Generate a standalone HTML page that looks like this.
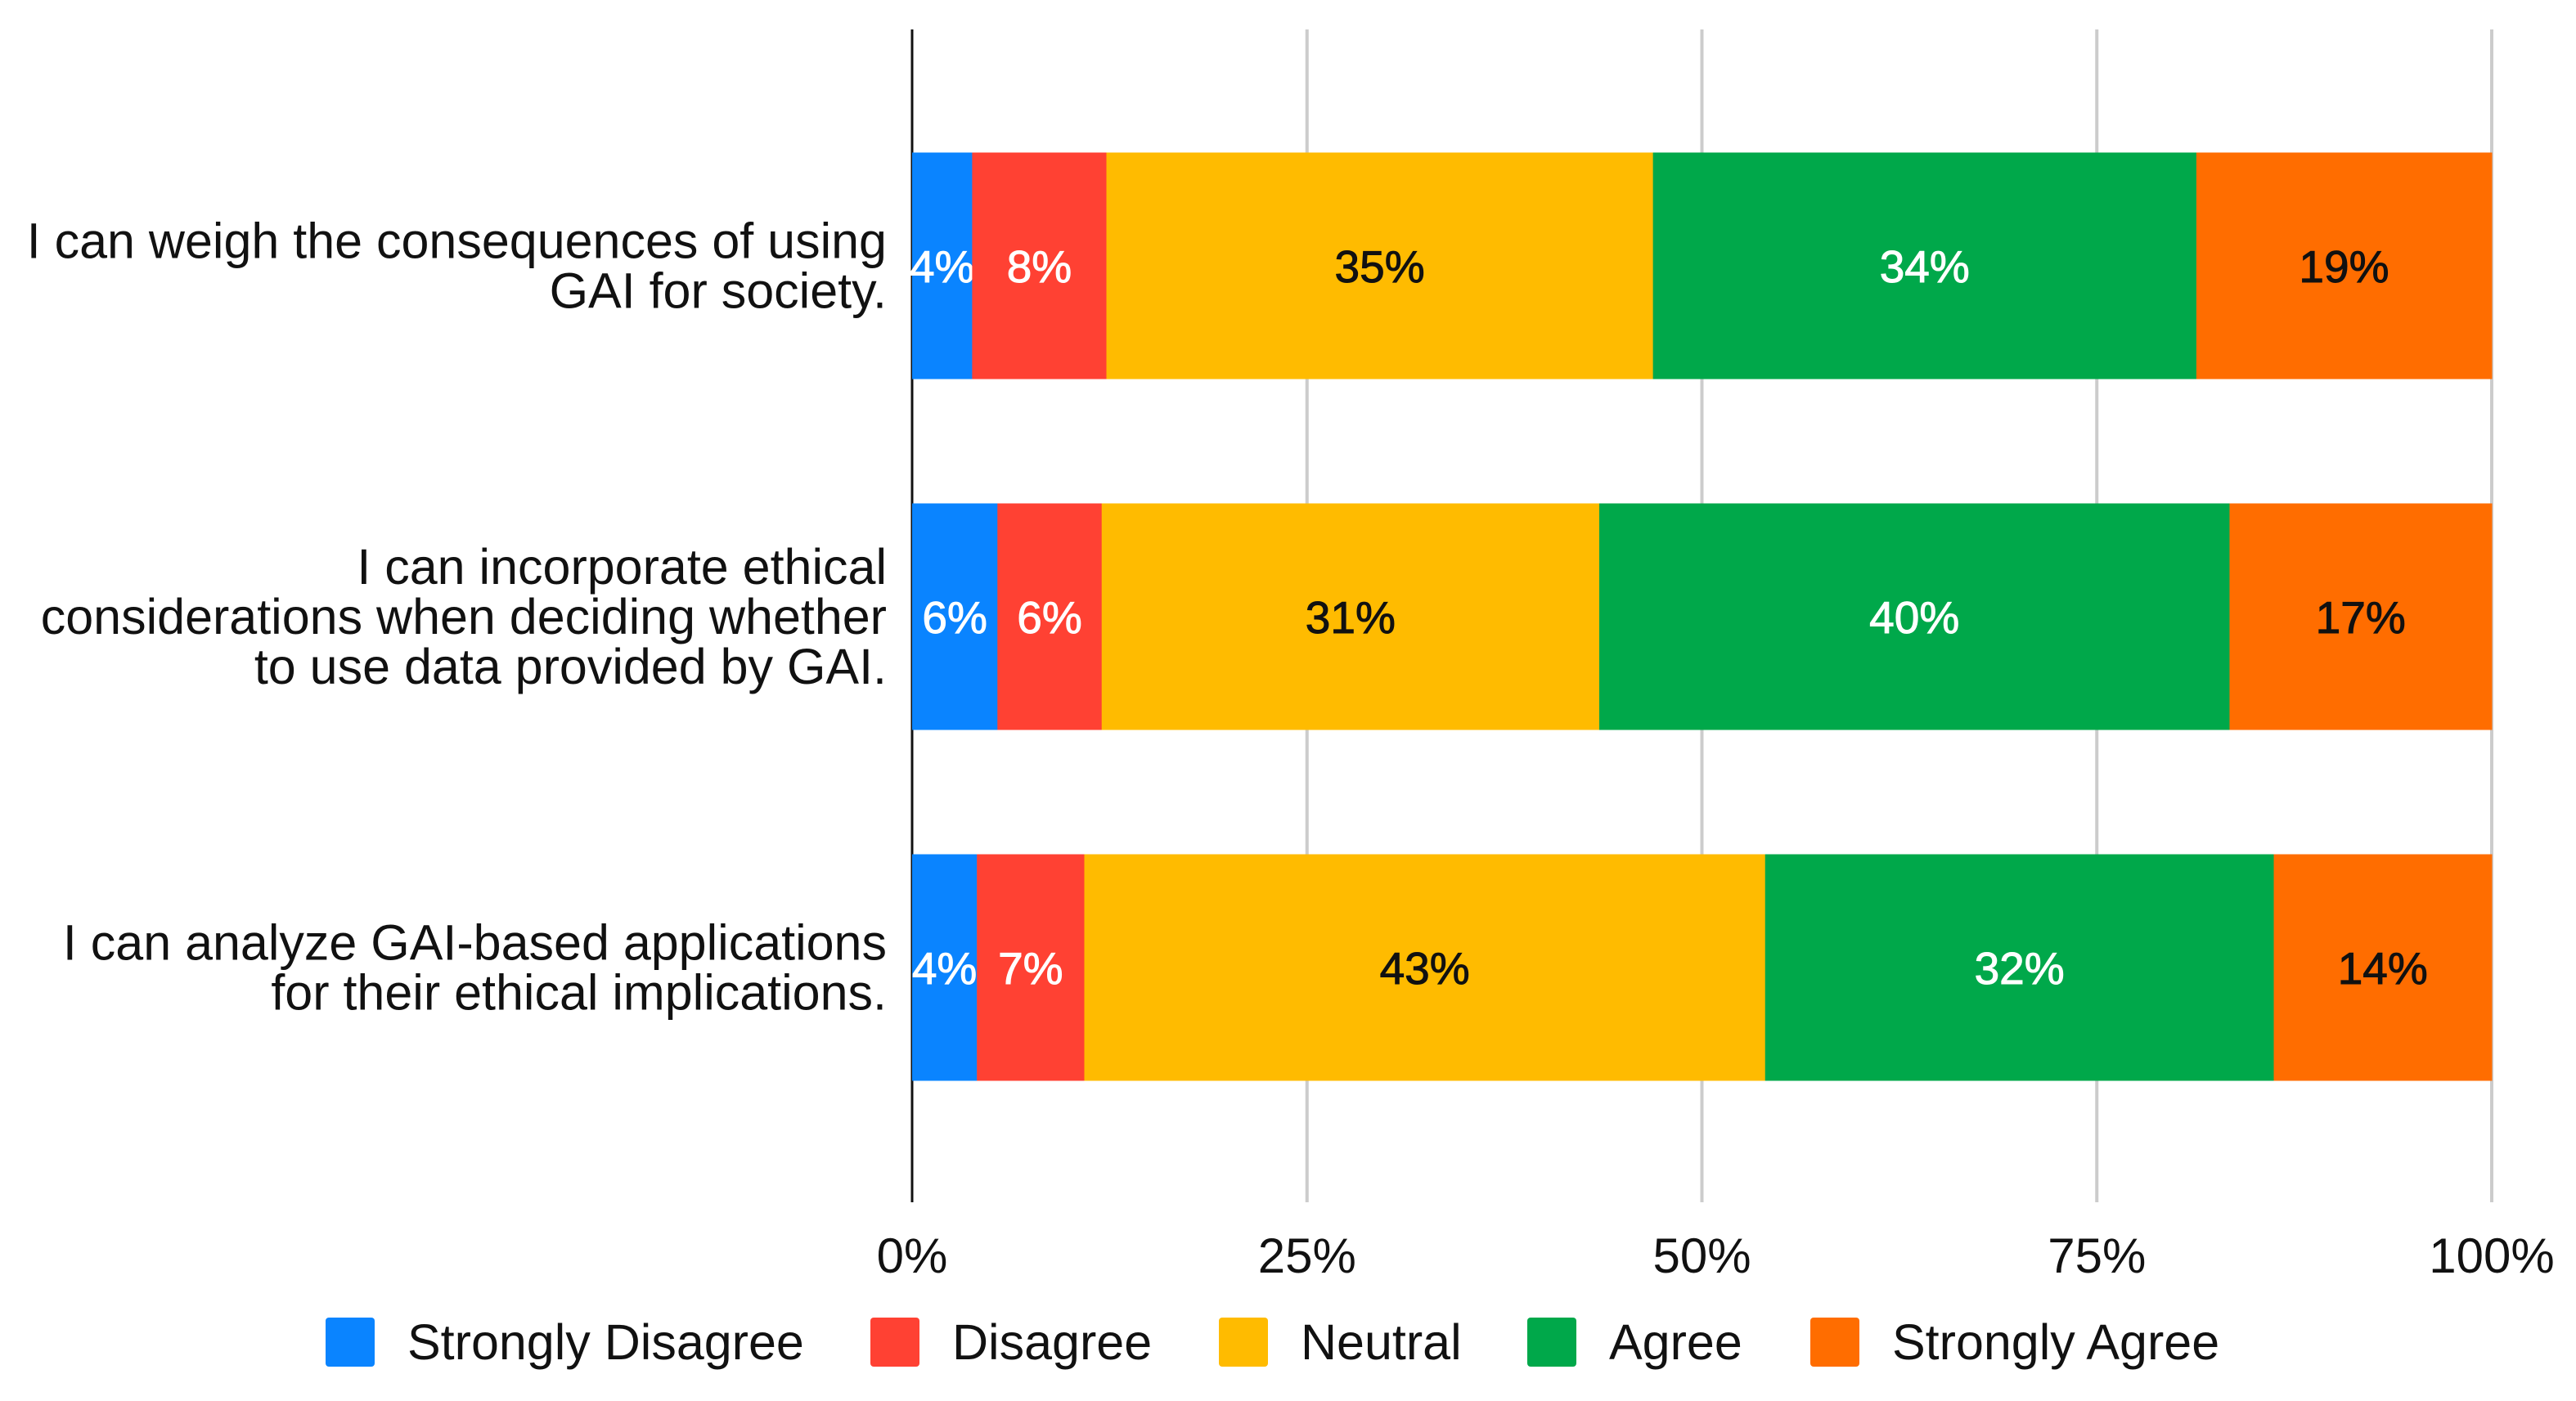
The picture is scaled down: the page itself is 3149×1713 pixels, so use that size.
<!DOCTYPE html>
<html><head><meta charset="utf-8"><style>
html,body{margin:0;padding:0;background:#fff}
svg{display:block}
text{font-family:"Liberation Sans",sans-serif}
</style></head><body>
<svg id="chart" width="3149" height="1713" viewBox="0 0 3149 1713" xmlns="http://www.w3.org/2000/svg">
<g id="grid"></g>
<g id="bars"></g>
<g id="ylabels"></g>
<g id="xticks"></g>
<g id="legend"></g>
</svg>
<script>
const categories = [
  ["I can weigh the consequences of using","GAI for society."],
  ["I can incorporate ethical","considerations when deciding whether","to use data provided by GAI."],
  ["I can analyze GAI-based applications","for their ethical implications."]
];
const seriesNames = ["Strongly Disagree","Disagree","Neutral","Agree","Strongly Agree"];
const stronglyDisagree = [3.8, 5.4, 4.1];
const disagree = [8.5, 6.6, 6.8];
const neutral = [34.6, 31.5, 43.1];
const agree = [34.4, 39.9, 32.2];
const stronglyAgree = [18.7, 16.6, 13.8];
const valueLabels = [
  ["4%","8%","35%","34%","19%"],
  ["6%","6%","31%","40%","17%"],
  ["4%","7%","43%","32%","14%"]
];
const ticks = [0,25,50,75,100];
const tickLabels = ["0%","25%","50%","75%","100%"];

const series = [stronglyDisagree, disagree, neutral, agree, stronglyAgree];
const colors = ["#0A84FF","#FF4133","#FFBB00","#00A84A","#FF6D00"];
const textColors = ["#fff","#fff","#111","#fff","#111"];
const NS = "http://www.w3.org/2000/svg";
const x0 = 1115, x1 = 3046;
const xs = v => x0 + (x1 - x0) * v / 100;
const barH = 277;
const yc = i => 325 + 429 * i;
function mk(tag, attrs, parent){const e=document.createElementNS(NS,tag);for(const k in attrs)e.setAttribute(k,attrs[k]);parent.appendChild(e);return e;}
const grid = document.getElementById('grid');
ticks.forEach((t,i)=>{
  if(i===0) return;
  const l = mk('line',{x1:xs(t),x2:xs(t),y1:36,y2:1470,stroke:'#cccccc','stroke-width':4},grid);
  
  
});
const bars = document.getElementById('bars');
categories.forEach((c,i)=>{
  let acc = 0;
  const y = yc(i) - barH/2;
  series.forEach((s,j)=>{
    const v = s[i];
    const r = mk('rect',{x:xs(acc),y:y,width:xs(acc+v)-xs(acc)+0.5,height:barH,fill:colors[j]},bars);
    
    
    const t = mk('text',{x:(xs(acc)+xs(acc+v))/2,y:yc(i)+20,'text-anchor':'middle','font-size':55,'stroke':textColors[j],'stroke-width':1,fill:textColors[j]},bars);
    t.textContent = valueLabels[i][j];
    
    
    acc += v;
  });
});
const axis = mk('line',{x1:x0,x2:x0,y1:36,y2:1470,stroke:'#111','stroke-width':3},grid);


const yl = document.getElementById('ylabels');
categories.forEach((lines,i)=>{
  const n = lines.length;
  lines.forEach((ln,k)=>{
    const t = mk('text',{x:1084,y:yc(i)+21+(k-(n-1)/2)*61,'text-anchor':'end','font-size':61,fill:'#111'},yl);
    t.textContent = ln;
    
    
  });
});
const xt = document.getElementById('xticks');
ticks.forEach((t,i)=>{
  const e = mk('text',{x:xs(t),y:1556,'text-anchor':'middle','font-size':60,fill:'#111'},xt);
  e.textContent = tickLabels[i];
  
  
});
const lg = document.getElementById('legend');
const legX = [398,1064,1490,1867,2213];
seriesNames.forEach((n,j)=>{
  const g = mk('g',{},lg);
  
  
  mk('rect',{x:legX[j],y:1611,width:60,height:60,rx:4,fill:colors[j]},g);
  const t = mk('text',{x:legX[j]+100,y:1662,'font-size':61,fill:'#111'},g);
  t.textContent = n;
});
</script>
</body></html>
